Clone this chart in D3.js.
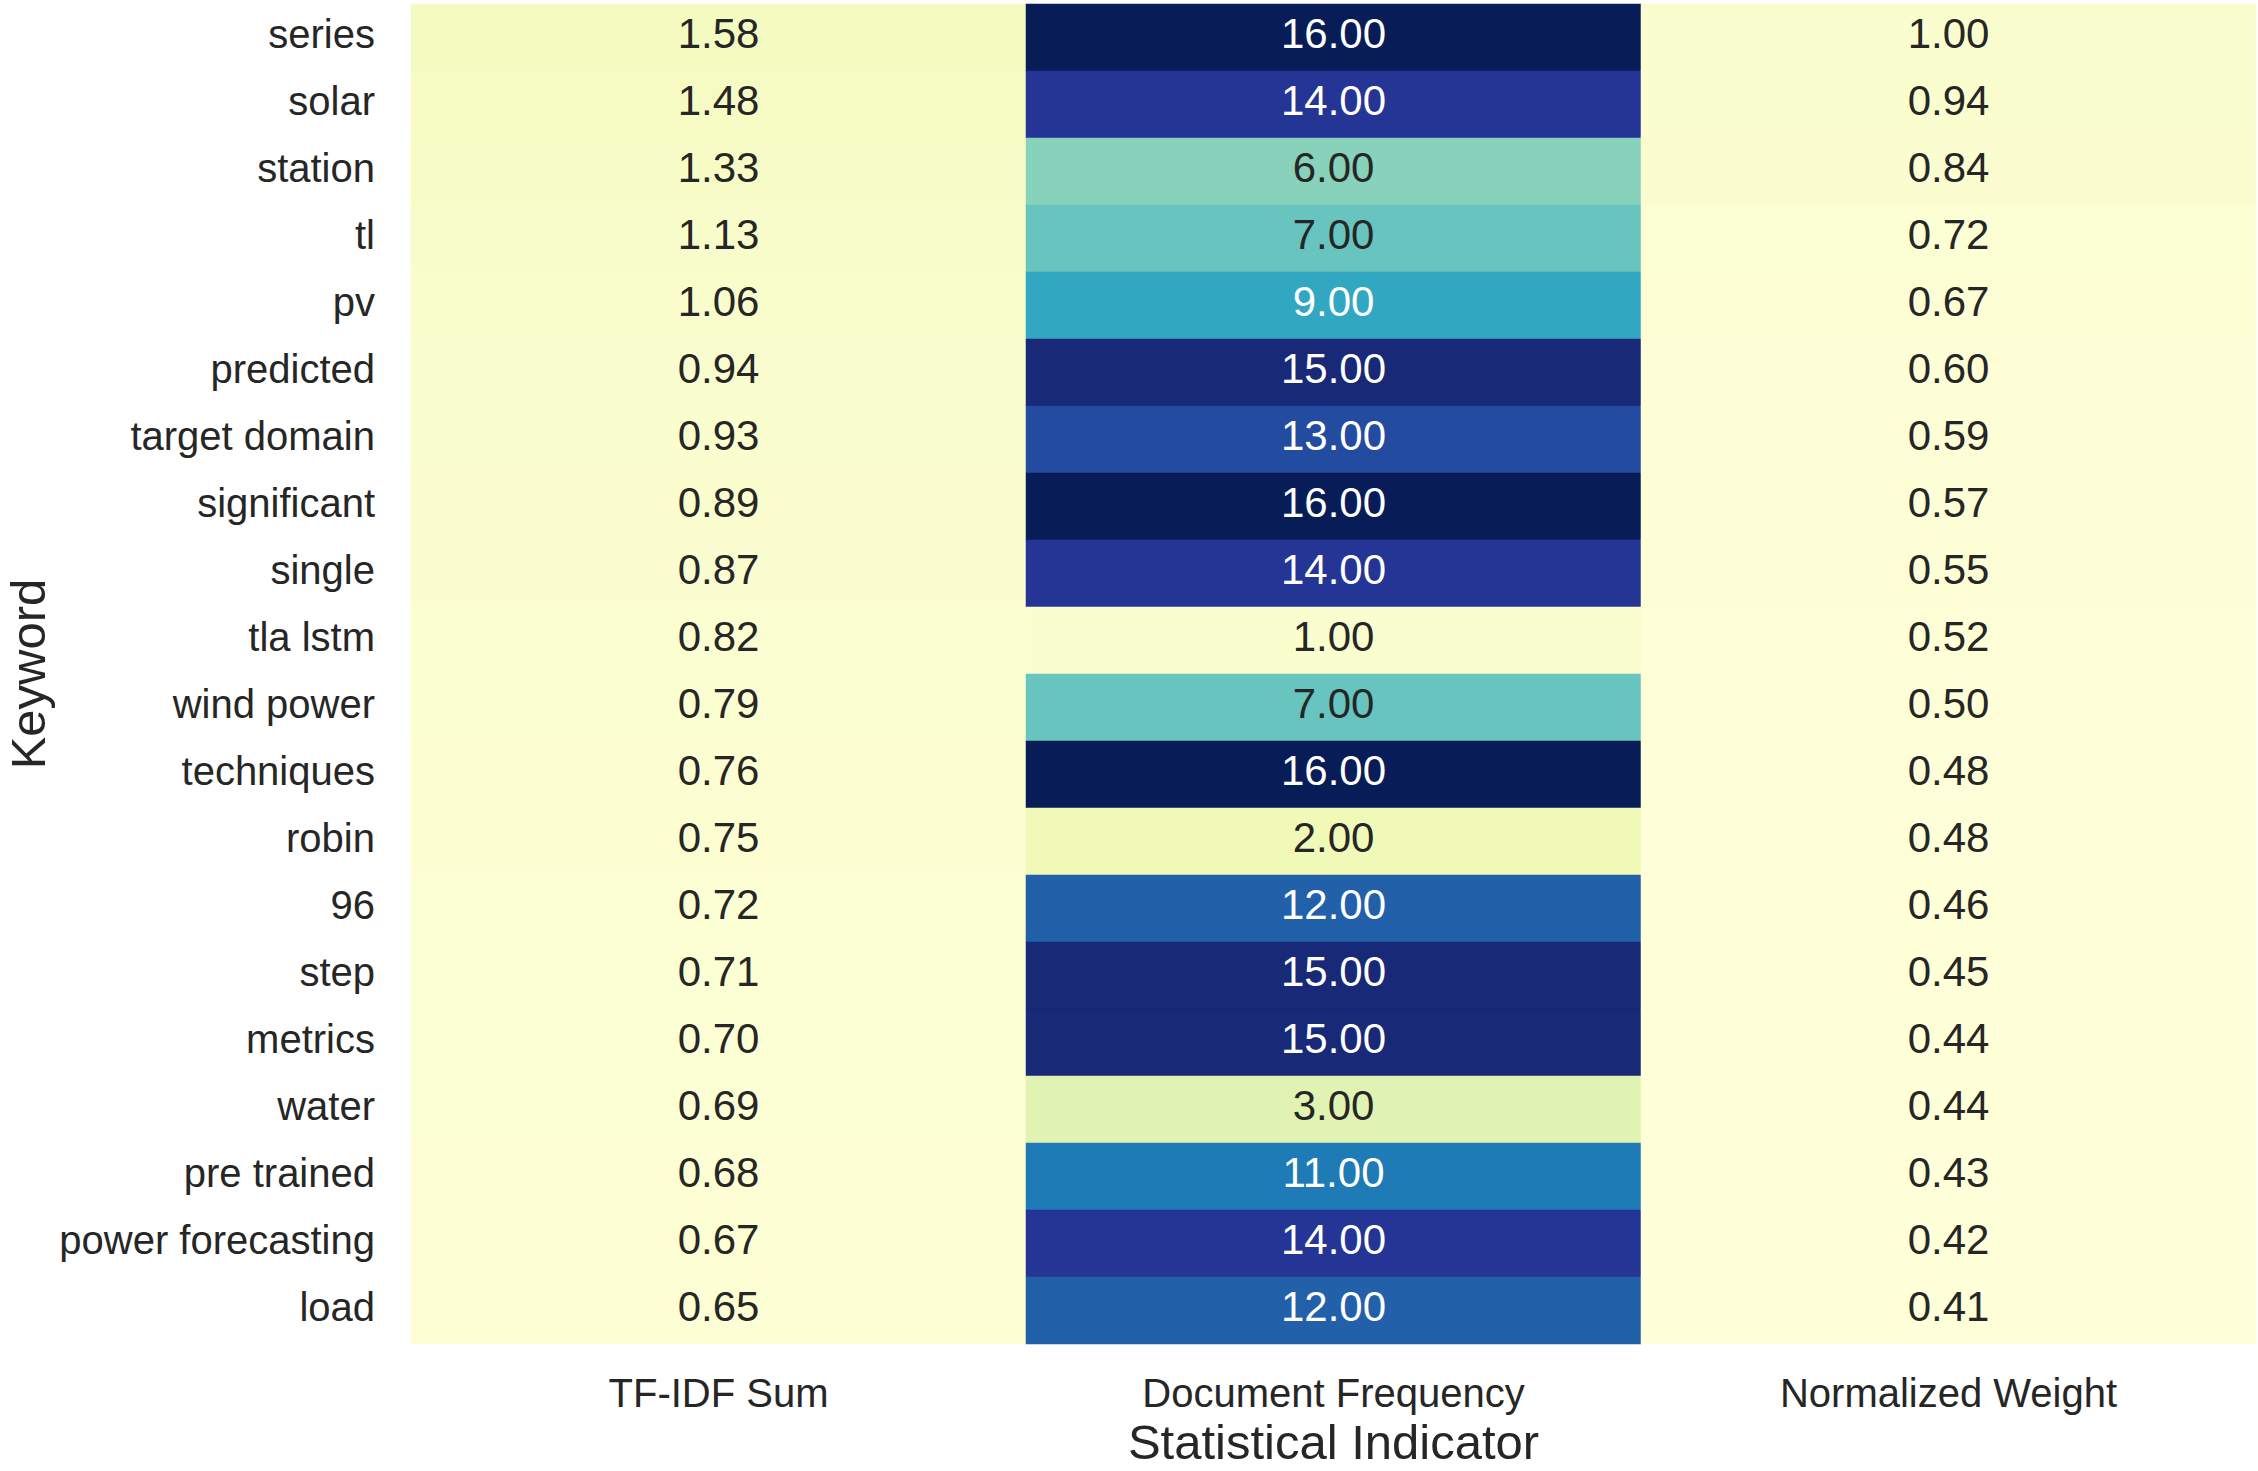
<!DOCTYPE html>
<html>
<meta charset="utf-8">
<head>
  <script src="https://d3js.org/d3.v7.js"></script>
  <style>
    body { margin: 0; background: #fff; }
    svg text { font-family: "Liberation Sans", Arial, sans-serif; }
  </style>
</head>
<body>
  <svg id="chart" width="2258" height="1471"></svg>
  <script>
    // values
    var keywords = ["series", "solar", "station", "tl", "pv", "predicted", "target domain",
      "significant", "single", "tla lstm", "wind power", "techniques", "robin", "96",
      "step", "metrics", "water", "pre trained", "power forecasting", "load"]
    var indicators = ["TF-IDF Sum", "Document Frequency", "Normalized Weight"]
    var tfidfSum = [1.58, 1.48, 1.33, 1.13, 1.06, 0.94, 0.93, 0.89, 0.87, 0.82,
      0.79, 0.76, 0.75, 0.72, 0.71, 0.70, 0.69, 0.68, 0.67, 0.65]
    var docFreq = [16, 14, 6, 7, 9, 15, 13, 16, 14, 1,
      7, 16, 2, 12, 15, 15, 3, 11, 14, 12]
    var normWeight = [1.00, 0.94, 0.84, 0.72, 0.67, 0.60, 0.59, 0.57, 0.55, 0.52,
      0.50, 0.48, 0.48, 0.46, 0.45, 0.44, 0.44, 0.43, 0.42, 0.41]

    var columns = [tfidfSum, docFreq, normWeight]
    var cells = []
    columns.forEach(function(col, j) {
      col.forEach(function(v, i) {
        cells.push({row: keywords[i], col: indicators[j], value: v})
      })
    })

    var svg = d3.select("svg#chart")
    var margin = {top: 4, right: 2, bottom: 127, left: 411}
    var width = +svg.attr("width") - margin.left - margin.right
    var height = +svg.attr("height") - margin.top - margin.bottom
    var g = svg.append("g").attr("transform", `translate(${margin.left}, ${margin.top})`)

    var x = d3.scaleBand().domain(indicators).range([0, width]).padding(0)
    var y = d3.scaleBand().domain(keywords).range([0, height]).padding(0)

    // YlGnBu, single scale over all cells like seaborn's heatmap
    var all = cells.map(d => d.value)
    var vmin = d3.min(all), vmax = d3.max(all)
    var ylgnbu = d3.schemeYlGnBu[9]
    var color = d3.scaleLinear()
      .domain(ylgnbu.map((c, i) => vmin + i * (vmax - vmin) / 8))
      .range(ylgnbu)
      .clamp(true)

    function luminance(c) {
      var rgb = d3.rgb(c)
      var lin = [rgb.r, rgb.g, rgb.b].map(function(v) {
        v = v / 255
        return v <= 0.03928 ? v / 12.92 : Math.pow((v + 0.055) / 1.055, 2.4)
      })
      return 0.2126 * lin[0] + 0.7152 * lin[1] + 0.0722 * lin[2]
    }

    g.selectAll("rect.cell")
      .data(cells)
      .enter()
      .append("rect")
      .attr("class", "cell")
      .attr("x", d => x(d.col))
      .attr("y", d => y(d.row))
      .attr("width", x.bandwidth())
      .attr("height", y.bandwidth())
      .attr("fill", d => color(d.value))
      .attr("stroke", d => color(d.value))
      .attr("stroke-width", 0.5)

    g.selectAll("text.annot")
      .data(cells)
      .enter()
      .append("text")
      .attr("class", "annot")
      .attr("x", d => x(d.col) + x.bandwidth() / 2)
      .attr("y", d => y(d.row) + y.bandwidth() / 2)
      .attr("dy", "0.26em")
      .attr("text-anchor", "middle")
      .style("font-size", "42px")
      .attr("fill", d => luminance(color(d.value)) > 0.408 ? "#262626" : "#ffffff")
      .text(d => d.value.toFixed(2))

    var yAxis = g.append("g")
      .call(d3.axisLeft(y).tickSize(0).tickPadding(36))
    yAxis.select(".domain").remove()
    yAxis.selectAll("text")
      .attr("dy", "0.27em")
      .attr("fill", "#262626")
      .style("font-size", "40px")

    var xAxis = g.append("g")
      .attr("transform", `translate(0, ${height})`)
      .call(d3.axisBottom(x).tickSize(0).tickPadding(35))
    xAxis.select(".domain").remove()
    xAxis.selectAll("text")
      .attr("fill", "#262626")
      .style("font-size", "40px")

    g.append("text")
      .attr("x", width / 2)
      .attr("y", height + 115)
      .attr("text-anchor", "middle")
      .attr("fill", "#262626")
      .style("font-size", "49px")
      .text("Statistical Indicator")

    g.append("text")
      .attr("transform", "rotate(-90)")
      .attr("x", -height / 2)
      .attr("y", 45 - margin.left)
      .attr("text-anchor", "middle")
      .attr("fill", "#262626")
      .style("font-size", "49px")
      .text("Keyword")
  </script>
</body>
</html>
